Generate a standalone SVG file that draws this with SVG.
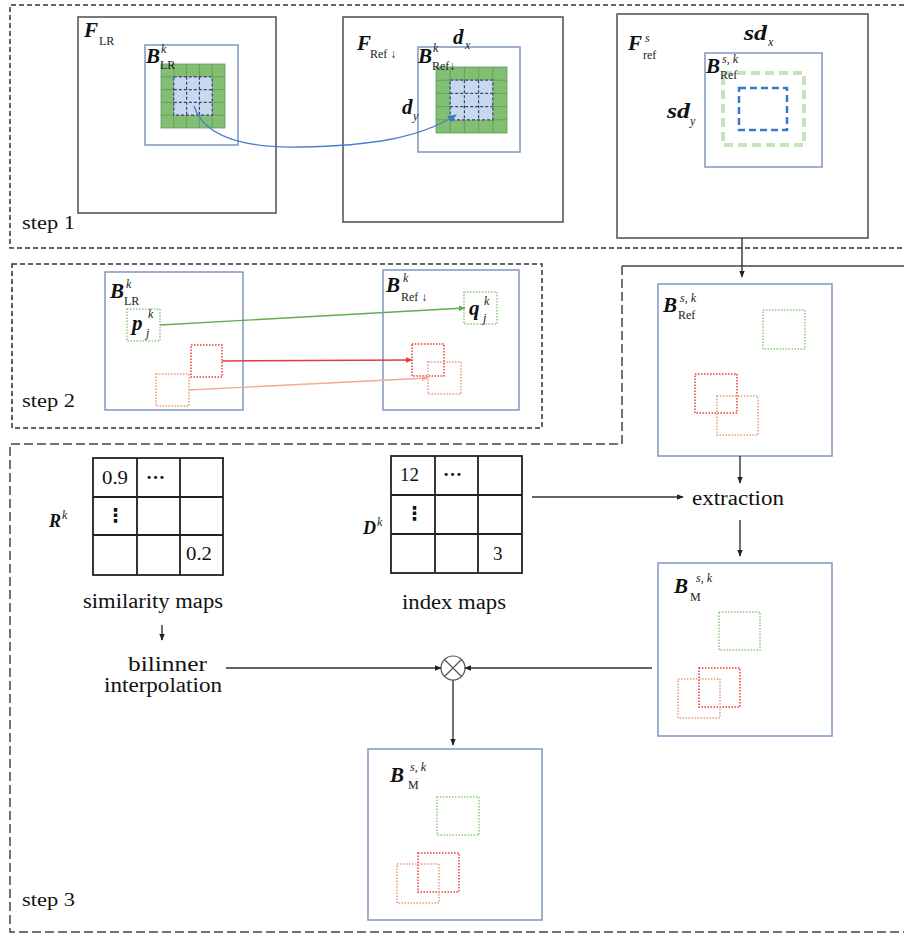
<svg xmlns="http://www.w3.org/2000/svg" width="904" height="936" viewBox="0 0 904 936">
<defs>
<style>
.frame{fill:none;stroke:#4d4d4d;stroke-width:1.5}
.blue{fill:none;stroke:#8096c4;stroke-width:1.5}
.d1{fill:none;stroke:#333;stroke-width:1.5;stroke-dasharray:5 3}
.d3{fill:none;stroke:#444;stroke-width:1.5;stroke-dasharray:9 4}
.m{font-family:"Liberation Serif","DejaVu Sans",serif;font-weight:bold;font-style:italic;font-size:21px;fill:#111}
.mi{font-family:"Liberation Serif","DejaVu Sans",serif;font-weight:bold;font-style:italic;font-size:18px;fill:#111}
.sub{font-family:"Liberation Serif","DejaVu Sans",serif;font-size:12px;fill:#222}
.sup{font-family:"Liberation Serif","DejaVu Sans",serif;font-style:italic;font-size:12px;fill:#222}
.t{font-family:"Liberation Serif","DejaVu Sans",serif;font-size:20px;fill:#111}
.st{font-family:"Liberation Serif","DejaVu Sans",serif;font-size:19px;fill:#111}
.num{font-family:"Liberation Serif","DejaVu Sans",serif;font-size:19px;fill:#111}
.gc{fill:#82bf75;stroke:#5e9b58;stroke-width:0.8}
.bc{fill:#c8d8ee;stroke:#3c4466;stroke-width:1.2;stroke-dasharray:3 2}
.gd{fill:none;stroke:#8ccb80;stroke-width:1.5;stroke-dasharray:1.5 1.5}
.rd{fill:none;stroke:#ee3a3a;stroke-width:1.5;stroke-dasharray:1.5 1.5}
.od{fill:none;stroke:#ee9a78;stroke-width:1.5;stroke-dasharray:1.5 1.5}
.tb{fill:none;stroke:#222;stroke-width:1.8}
.c{fill:none;stroke:#333;stroke-width:1.4}
</style>
<marker id="ah" viewBox="0 0 10 10" refX="9" refY="5" markerWidth="7" markerHeight="7" markerUnits="userSpaceOnUse" orient="auto"><path d="M0,1 L10,5 L0,9 z" fill="#222"/></marker>
<marker id="ahb" viewBox="0 0 10 10" refX="9" refY="5" markerWidth="9" markerHeight="9" markerUnits="userSpaceOnUse" orient="auto"><path d="M0,1 L10,5 L0,9 z" fill="#3a78cc"/></marker>
<marker id="ahg" viewBox="0 0 10 10" refX="9" refY="5" markerWidth="7" markerHeight="7" markerUnits="userSpaceOnUse" orient="auto"><path d="M0,1 L10,5 L0,9 z" fill="#62ad4f"/></marker>
<marker id="ahr" viewBox="0 0 10 10" refX="9" refY="5" markerWidth="7" markerHeight="7" markerUnits="userSpaceOnUse" orient="auto"><path d="M0,1 L10,5 L0,9 z" fill="#e6393a"/></marker>
<marker id="aho" viewBox="0 0 10 10" refX="9" refY="5" markerWidth="7" markerHeight="7" markerUnits="userSpaceOnUse" orient="auto"><path d="M0,1 L10,5 L0,9 z" fill="#f0ad90"/></marker>
</defs>
<rect width="904" height="936" fill="#fff"/>

<g id="regions">
<path class="d1" d="M904,5 H10 V248 H904"/>
<rect class="d1" x="12" y="264" width="530" height="164"/>
<path class="d3" d="M622,266 V444 H10 V932 H904"/>
<path fill="none" stroke="#444" stroke-width="1.5" d="M622,266 H904"/>
<text class="st" x="22" y="229" textLength="53" lengthAdjust="spacingAndGlyphs">step 1</text>
<text class="st" x="22" y="407" textLength="53" lengthAdjust="spacingAndGlyphs">step 2</text>
<text class="st" x="22" y="906" textLength="53" lengthAdjust="spacingAndGlyphs">step 3</text>
</g>

<g id="F_LR">
<rect class="frame" x="78" y="17" width="198" height="196"/>
<text class="m" x="84" y="37">F</text><text class="sub" x="99" y="45">LR</text>
</g>
<g id="B_LR_step1">
<rect class="blue" x="145" y="45" width="93" height="100"/>
<rect class="gc" x="161" y="64" width="64" height="64"/>
<path stroke="#5e9b58" stroke-width="0.8" d="M173.8,64V128M186.6,64V128M199.4,64V128M212.2,64V128M161,76.8H225M161,89.6H225M161,102.4H225M161,115.2H225"/>
<rect class="bc" x="173.8" y="76.8" width="38.4" height="38.4"/>
<path fill="none" stroke="#3c4466" stroke-width="1.2" stroke-dasharray="3 2" d="M186.6,76.8V115.2M199.4,76.8V115.2M173.8,89.6H212.2M173.8,102.4H212.2"/>
<text class="m" x="146" y="63">B</text><text class="sup" x="161" y="53">k</text><text class="sub" x="160" y="69">LR</text>
</g>

<g id="F_Ref">
<rect class="frame" x="343" y="17" width="220" height="205"/>
<text class="m" x="357" y="50">F</text><text class="sub" x="370" y="58">Ref ↓</text>
</g>
<g id="B_Ref_step1">
<rect class="blue" x="418" y="47" width="102" height="105"/>
<rect class="gc" x="436" y="67" width="71" height="66"/>
<path stroke="#5e9b58" stroke-width="0.8" d="M450.2,67V133M464.4,67V133M478.6,67V133M492.8,67V133M436,80.2H507M436,93.4H507M436,106.6H507M436,119.8H507"/>
<rect class="bc" x="450.2" y="80.2" width="42.6" height="39.6"/>
<path fill="none" stroke="#3c4466" stroke-width="1.2" stroke-dasharray="3 2" d="M464.4,80.2V119.8M478.6,80.2V119.8M450.2,93.4H492.8M450.2,106.6H492.8"/>
<text class="m" x="418" y="63">B</text><text class="sup" x="433" y="52">k</text><text class="sub" x="432" y="70">Ref↓</text>
<text class="m" x="453" y="44">d</text><text class="sup" x="465" y="49">x</text>
<text class="m" x="402" y="114">d</text><text class="sup" x="413" y="120">y</text>
</g>

<g id="F_ref_s">
<rect class="frame" x="617" y="14" width="251" height="224"/>
<text class="m" x="628" y="50">F</text><text class="sup" x="645" y="42">s</text><text class="sub" x="643" y="59">ref</text>
<text class="m" x="744" y="40" textLength="23" lengthAdjust="spacingAndGlyphs">sd</text><text class="sup" x="768" y="46">x</text>
<text class="m" x="667" y="118" textLength="23" lengthAdjust="spacingAndGlyphs">sd</text><text class="sup" x="690" y="125">y</text>
</g>
<g id="B_Ref_s_step1">
<rect class="blue" x="705" y="53" width="117" height="114"/>
<rect fill="none" stroke="#c6e3bd" stroke-width="4" stroke-dasharray="9 5" x="723" y="73" width="81" height="72"/>
<rect fill="none" stroke="#3a78cc" stroke-width="2.5" stroke-dasharray="7 4" x="739" y="88" width="48" height="42"/>
<text class="m" x="706" y="73">B</text><text class="sup" x="722" y="63">s, k</text><text class="sub" x="720" y="79">Ref</text>
</g>

<g id="B_LR_step2">
<rect class="blue" x="105" y="272" width="138" height="138"/>
<text class="m" x="110" y="298">B</text><text class="sup" x="126" y="288">k</text><text class="sub" x="124" y="305">LR</text>
<rect class="gd" x="127" y="309" width="33" height="32"/>
<text class="m" x="132" y="330">p</text><text class="sup" x="148" y="318">k</text><text class="sup" x="146" y="337">j</text>
<rect class="rd" x="191" y="345" width="31" height="32"/>
<rect class="od" x="156" y="374" width="33" height="32"/>
</g>
<g id="B_Ref_step2">
<rect class="blue" x="383" y="270" width="136" height="140"/>
<text class="m" x="386" y="292">B</text><text class="sup" x="403" y="282">k</text><text class="sub" x="401" y="301">Ref ↓</text>
<rect class="gd" x="464" y="292" width="33" height="32"/>
<text class="m" x="469" y="315">q</text><text class="sup" x="484" y="305">k</text><text class="sup" x="483" y="322">j</text>
<rect class="rd" x="412" y="344" width="32" height="32"/>
<rect class="od" x="428" y="362" width="33" height="32"/>
</g>

<g id="B_Ref_s_step3">
<rect class="blue" x="658" y="284" width="174" height="172"/>
<text class="m" x="663" y="312">B</text><text class="sup" x="680" y="302">s, k</text><text class="sub" x="678" y="319">Ref</text>
<rect class="gd" x="763" y="310" width="42" height="39"/>
<rect class="rd" x="695" y="374" width="42" height="39"/>
<rect class="od" x="717" y="396" width="41" height="39"/>
</g>

<g id="extraction">
<text class="t" x="692" y="505" textLength="92" lengthAdjust="spacingAndGlyphs">extraction</text>
</g>

<g id="B_M_right">
<rect class="blue" x="658" y="563" width="174" height="173"/>
<text class="m" x="674" y="593">B</text><text class="sup" x="696" y="582">s, k</text><text class="sub" x="690" y="601">M</text>
<rect class="gd" x="719" y="612" width="41" height="38"/>
<rect class="rd" x="699" y="668" width="41" height="39"/>
<rect class="od" x="678" y="679" width="42" height="39"/>
</g>

<g id="R_map">
<rect class="tb" x="93" y="458" width="130" height="117"/>
<path class="tb" d="M137,458V575M180,458V575M93,497H223M93,535H223"/>
<text class="num" x="102" y="484" textLength="26" lengthAdjust="spacingAndGlyphs">0.9</text>
<text class="num" x="146" y="479" font-weight="bold">…</text>
<text class="num" x="106" y="522" font-weight="bold" font-family="DejaVu Sans">⋮</text>
<text class="num" x="186" y="560" textLength="26" lengthAdjust="spacingAndGlyphs">0.2</text>
<text class="mi" x="49" y="527">R</text><text class="sup" x="62" y="519" font-size="9">k</text>
<text class="t" x="83" y="608" textLength="140" lengthAdjust="spacingAndGlyphs">similarity maps</text>
</g>

<g id="D_map">
<rect class="tb" x="391" y="456" width="131" height="117"/>
<path class="tb" d="M435,456V573M478,456V573M391,495H522M391,534H522"/>
<text class="num" x="400" y="481">12</text>
<text class="num" x="443" y="476" font-weight="bold">…</text>
<text class="num" x="405" y="520" font-weight="bold" font-family="DejaVu Sans">⋮</text>
<text class="num" x="493" y="560">3</text>
<text class="mi" x="363" y="534">D</text><text class="sup" x="377" y="526" font-size="9">k</text>
<text class="t" x="402" y="609" textLength="104" lengthAdjust="spacingAndGlyphs">index maps</text>
</g>

<g id="bilinear">
<text class="t" x="128" y="671" font-size="18" textLength="79" lengthAdjust="spacingAndGlyphs">bilinner</text>
<text class="t" x="104" y="692" font-size="18" textLength="118" lengthAdjust="spacingAndGlyphs">interpolation</text>
</g>

<g id="multiply">
<circle cx="453" cy="668" r="12" fill="#fff" stroke="#555" stroke-width="1.2"/>
<path stroke="#555" stroke-width="1.2" d="M444.5,659.5L461.5,676.5M461.5,659.5L444.5,676.5"/>
</g>

<g id="B_M_bottom">
<rect class="blue" x="368" y="749" width="174" height="171"/>
<text class="m" x="390" y="782">B</text><text class="sup" x="410" y="771">s, k</text><text class="sub" x="408" y="789">M</text>
<rect class="gd" x="437" y="797" width="42" height="38"/>
<rect class="rd" x="418" y="853" width="41" height="39"/>
<rect class="od" x="397" y="864" width="42" height="39"/>
</g>

<g id="connectors">
<path fill="none" stroke="#4a7fd0" stroke-width="1.3" marker-end="url(#ahb)" d="M194,106 C205,140 250,148 300,147 C370,146 420,138 456,115"/>
<path fill="none" stroke="#62ad4f" stroke-width="1.3" marker-end="url(#ahg)" d="M160,325 L465,308"/>
<path fill="none" stroke="#e6393a" stroke-width="1.5" marker-end="url(#ahr)" d="M222,361 L412,360"/>
<path fill="none" stroke="#f0ad90" stroke-width="1.3" marker-end="url(#aho)" d="M189,390 L428,378"/>
<path class="c" marker-end="url(#ah)" d="M742,238 V277"/>
<path class="c" marker-end="url(#ah)" d="M740,456 V483"/>
<path class="c" marker-end="url(#ah)" d="M740,520 V556"/>
<path class="c" marker-end="url(#ah)" d="M532,497 H683"/>
<path class="c" marker-end="url(#ah)" d="M162,625 V640"/>
<path class="c" marker-end="url(#ah)" d="M226,668 H441"/>
<path class="c" marker-end="url(#ah)" d="M652,668 H465"/>
<path class="c" marker-end="url(#ah)" d="M453,680 V745"/>
</g>
</svg>
